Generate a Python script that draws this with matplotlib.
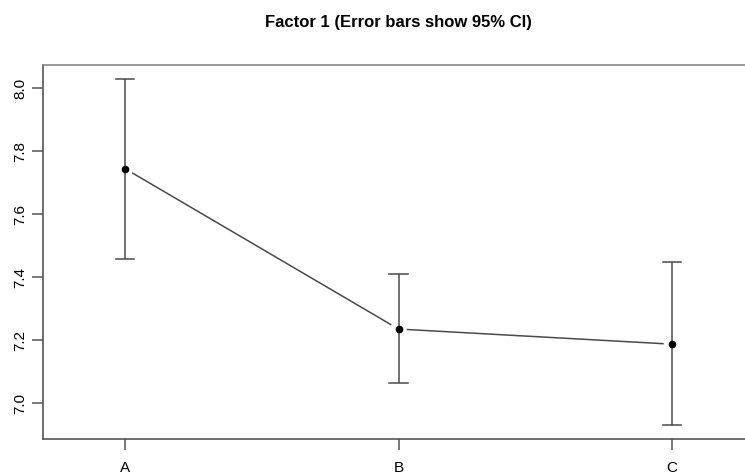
import numpy as np
import matplotlib.pyplot as plt

plt.rcParams['font.family'] = ['Liberation Sans', 'DejaVu Sans']

# --- data ---
groups = ['A', 'B', 'C']
means = [7.744, 7.235, 7.187]
ci_low = [7.458, 7.063, 6.929]
ci_high = [8.030, 7.410, 7.449]
yticks = [7.0, 7.2, 7.4, 7.6, 7.8, 8.0]

W, H = 745, 475
fig = plt.figure(figsize=(W / 100, H / 100), dpi=100)
# R-style plot region, right edge runs past the figure
ax = fig.add_axes([43 / W, 1 - 439 / H, 711 / W, (439 - 65) / H])

x = np.arange(1, len(groups) + 1)
ax.set_xlim(0.7, 3.3)
ax.set_ylim(6.886, 8.073)

lc = '#4a4a4a'

# error bars with caps
cap = 0.033
for xi, lo, hi in zip(x, ci_low, ci_high):
    ax.plot([xi, xi], [lo, hi], color=lc, lw=1.1, solid_capstyle='butt')
    ax.plot([xi - cap, xi + cap], [lo, lo], color=lc, lw=1.1)
    ax.plot([xi - cap, xi + cap], [hi, hi], color=lc, lw=1.1)

# connecting line with gaps around the points (like R type="b")
fig.canvas.draw()
pts = ax.transData.transform(np.column_stack([x, means]))
gap = 9.0
inv = ax.transData.inverted()
for p0, p1 in zip(pts[:-1], pts[1:]):
    d = p1 - p0
    u = d / np.hypot(*d)
    seg = inv.transform(np.vstack([p0 + u * gap, p1 - u * gap]))
    ax.plot(seg[:, 0], seg[:, 1], color=lc, lw=1.1)

ax.plot(x, means, 'o', color='black', ms=4.5, zorder=5)

ax.set_xticks(x)
ax.set_xticklabels(groups, fontsize=11)
ax.set_yticks(yticks)
ax.set_yticklabels([f'{v:.1f}' for v in yticks], fontsize=11,
                   rotation=90, va='center')
ax.tick_params(axis='both', direction='out', length=8, width=1.1,
               color='#555555')
ax.tick_params(axis='x', pad=7.5)
ax.tick_params(axis='y', pad=3)

for side in ['left', 'bottom']:
    ax.spines[side].set_color('#555555')
    ax.spines[side].set_linewidth(1.2)
ax.spines['top'].set_color('#888888')
ax.spines['top'].set_linewidth(1.2)
ax.spines['right'].set_visible(False)

fig.text((43 + 754) / 2 / W, 1 - 22 / H, 'Factor 1 (Error bars show 95% CI)',
         ha='center', va='center', fontsize=12, fontweight='bold')

fig.savefig('out.png', dpi=100)
